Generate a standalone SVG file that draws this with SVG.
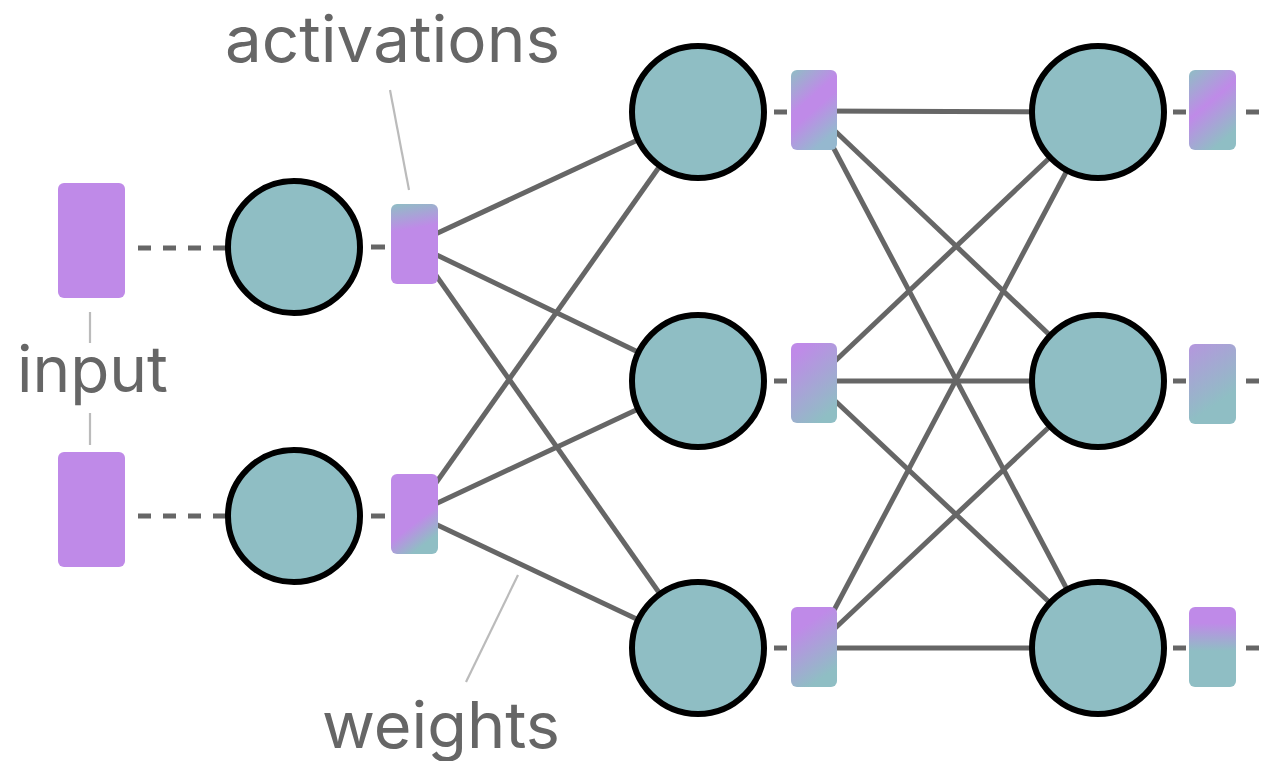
<svg xmlns="http://www.w3.org/2000/svg" width="1265" height="761" viewBox="0 0 1265 761">
<defs>
<style>
.bg{fill:#ffffff}
.node{fill:#8fbec4;stroke:#000;stroke-width:6}
.inp{fill:#bf8ae8}
.w{stroke:#666;stroke-width:5;fill:none}
.dash{stroke:#666;stroke-width:5;fill:none;stroke-dasharray:13 12}
.tick{stroke:#666;stroke-width:5;fill:none}
.lead{stroke:#bbbbbb;stroke-width:2.2;fill:none}
.lbl{font-family:Inter,"Noto Sans","Liberation Sans",sans-serif;font-size:64px;fill:#666}
</style>
<linearGradient id="g1" x1="0" y1="0" x2="0.1" y2="1"><stop offset="0" stop-color="#8fbec4"/><stop offset="0.35" stop-color="#bf8ae8"/><stop offset="1" stop-color="#bf8ae8"/></linearGradient>
<linearGradient id="g2" x1="0" y1="0" x2="0.45" y2="1"><stop offset="0" stop-color="#bf8ae8"/><stop offset="0.7" stop-color="#bf8ae8"/><stop offset="1" stop-color="#8fbec4"/></linearGradient>
<linearGradient id="g3" x1="0" y1="0" x2="0.5" y2="1"><stop offset="0" stop-color="#8fbec4"/><stop offset="0.45" stop-color="#bf8ae8"/><stop offset="0.6" stop-color="#bf8ae8"/><stop offset="1" stop-color="#95b8cf"/></linearGradient>
<linearGradient id="g4" x1="0.1" y1="0" x2="0.6" y2="1"><stop offset="0.1" stop-color="#bf8ae8"/><stop offset="1" stop-color="#8fbec4"/></linearGradient>
<linearGradient id="g5" x1="0" y1="0" x2="0.4" y2="1"><stop offset="0.3" stop-color="#bf8ae8"/><stop offset="1" stop-color="#8fbec4"/></linearGradient>
<linearGradient id="g6" x1="0" y1="0" x2="0.5" y2="1"><stop offset="0" stop-color="#8fbec4"/><stop offset="0.5" stop-color="#bf8ae8"/><stop offset="1" stop-color="#8fbec4"/></linearGradient>
<linearGradient id="g7" x1="0" y1="0" x2="0.4" y2="1"><stop offset="0" stop-color="#b596de"/><stop offset="0.85" stop-color="#8fbec4"/></linearGradient>
<linearGradient id="g8" x1="0" y1="0" x2="0" y2="1"><stop offset="0.2" stop-color="#bf8ae8"/><stop offset="0.55" stop-color="#8fbec4"/></linearGradient>
</defs>
<rect class="bg" x="0" y="0" width="1265" height="761"/>

<g id="connectors">
<line class="dash" x1="138" y1="248" x2="230" y2="248"/>
<line class="dash" x1="138" y1="516" x2="230" y2="516"/>
<line class="tick" x1="371" y1="247" x2="385" y2="247"/>
<line class="tick" x1="371" y1="516" x2="385" y2="516"/>
<line class="tick" x1="774" y1="112" x2="787" y2="112"/>
<line class="tick" x1="774" y1="381" x2="787" y2="381"/>
<line class="tick" x1="774" y1="648" x2="787" y2="648"/>
<line class="tick" x1="1173" y1="112" x2="1186" y2="112"/>
<line class="tick" x1="1173" y1="381" x2="1186" y2="381"/>
<line class="tick" x1="1173" y1="648" x2="1186" y2="648"/>
<line class="tick" x1="1246" y1="112" x2="1259" y2="112"/>
<line class="tick" x1="1246" y1="381" x2="1259" y2="381"/>
<line class="tick" x1="1246" y1="648" x2="1259" y2="648"/>
<line class="w" x1="414" y1="244" x2="698" y2="112"/>
<line class="w" x1="414" y1="244" x2="698" y2="381"/>
<line class="w" x1="414" y1="244" x2="698" y2="648"/>
<line class="w" x1="414" y1="514" x2="698" y2="112"/>
<line class="w" x1="414" y1="514" x2="698" y2="381"/>
<line class="w" x1="414" y1="514" x2="698" y2="648"/>
<line class="w" x1="814" y1="111" x2="1098" y2="112"/>
<line class="w" x1="814" y1="111" x2="1098" y2="381"/>
<line class="w" x1="814" y1="111" x2="1098" y2="648"/>
<line class="w" x1="814" y1="381" x2="1098" y2="112"/>
<line class="w" x1="814" y1="381" x2="1098" y2="381"/>
<line class="w" x1="814" y1="381" x2="1098" y2="648"/>
<line class="w" x1="814" y1="648" x2="1098" y2="112"/>
<line class="w" x1="814" y1="648" x2="1098" y2="381"/>
<line class="w" x1="814" y1="648" x2="1098" y2="648"/>
<line class="lead" x1="390" y1="90" x2="409" y2="190"/>
<line class="lead" x1="518" y1="575" x2="466" y2="682"/>
<line class="lead" x1="90" y1="312" x2="90" y2="343"/>
<line class="lead" x1="90" y1="413" x2="90" y2="445"/>
</g>

<g id="input1"><rect class="inp" x="58" y="183" width="67" height="115" rx="6"/></g>
<g id="input2"><rect class="inp" x="58" y="452" width="67" height="115" rx="6"/></g>

<g id="n1a"><circle class="node" cx="294" cy="247" r="66"/></g>
<g id="n1b"><circle class="node" cx="294" cy="516" r="66"/></g>
<g id="n2a"><circle class="node" cx="698" cy="112" r="66"/></g>
<g id="n2b"><circle class="node" cx="698" cy="381" r="66"/></g>
<g id="n2c"><circle class="node" cx="698" cy="648" r="66"/></g>
<g id="n3a"><circle class="node" cx="1098" cy="112" r="66"/></g>
<g id="n3b"><circle class="node" cx="1098" cy="381" r="66"/></g>
<g id="n3c"><circle class="node" cx="1098" cy="648" r="66"/></g>

<g id="a1a"><rect x="391" y="204" width="47" height="80" rx="6" fill="url(#g1)"/></g>
<g id="a1b"><rect x="391" y="474" width="47" height="80" rx="6" fill="url(#g2)"/></g>
<g id="a2a"><rect x="791" y="70" width="46" height="80" rx="6" fill="url(#g3)"/></g>
<g id="a2b"><rect x="791" y="343" width="46" height="80" rx="6" fill="url(#g4)"/></g>
<g id="a2c"><rect x="791" y="607" width="46" height="80" rx="6" fill="url(#g5)"/></g>
<g id="a3a"><rect x="1189" y="70" width="47" height="80" rx="6" fill="url(#g6)"/></g>
<g id="a3b"><rect x="1189" y="344" width="47" height="80" rx="6" fill="url(#g7)"/></g>
<g id="a3c"><rect x="1189" y="607" width="47" height="80" rx="6" fill="url(#g8)"/></g>

<g id="labels">
<text class="lbl" x="225" y="62" textLength="335" lengthAdjust="spacingAndGlyphs">activations</text>
<text class="lbl" x="17" y="392" textLength="151" lengthAdjust="spacingAndGlyphs">input</text>
<text class="lbl" x="322" y="748" textLength="238" lengthAdjust="spacingAndGlyphs">weights</text>
</g>
</svg>
